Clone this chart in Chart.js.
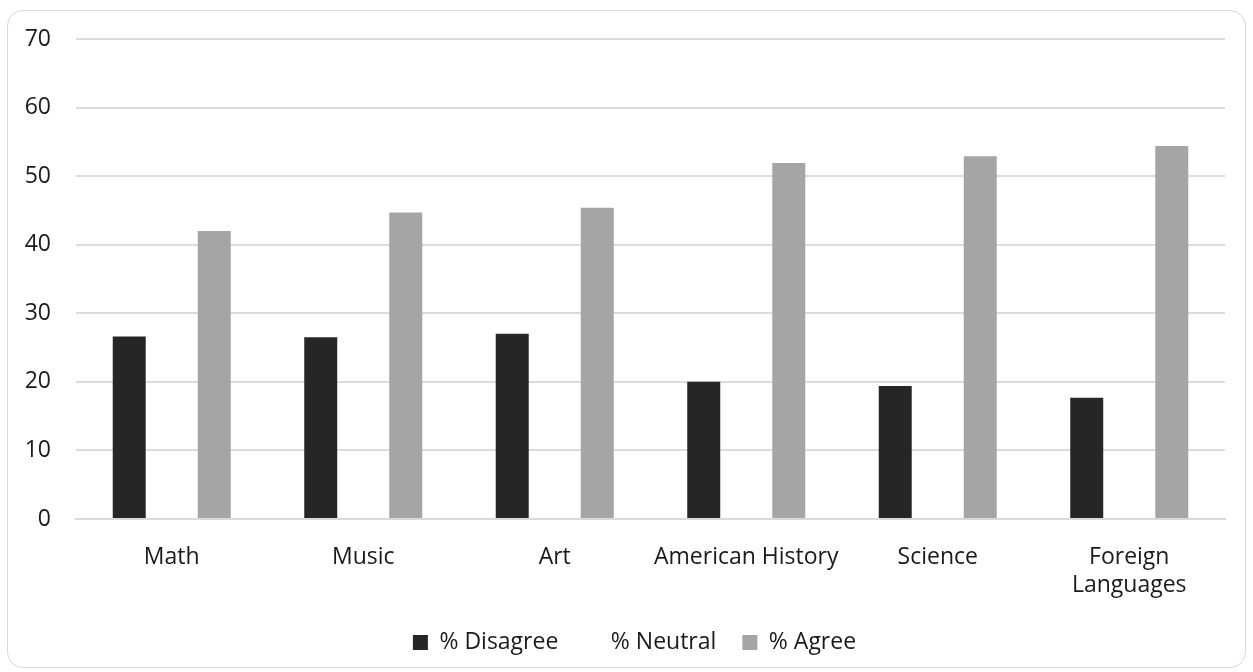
<!DOCTYPE html>
<html>
<head>
<meta charset="utf-8">
<script src="https://cdn.jsdelivr.net/npm/chart.js@4/dist/chart.umd.min.js"></script>
<style>
  html, body { margin: 0; padding: 0; background: #fff; }
  #frame {
    position: absolute; left: 7px; top: 10px;
    width: 1237px; height: 656px;
    border: 1px solid #d9d9d9; border-radius: 16px;
    background: #fff;
  }
  #frame canvas { display: block; }
</style>
</head>
<body>
<div id="frame"><canvas id="chart" width="1237" height="656"></canvas></div>
<script>
const subjects = ['Math', 'Music', 'Art', 'American History', 'Science', ['Foreign', 'Languages']];
const disagree = [26.6, 26.5, 27.0, 20.0, 19.4, 17.7];
const neutral = [31.4, 28.8, 27.6, 28.1, 27.7, 27.9];
const agree = [42.0, 44.7, 45.4, 51.9, 52.9, 54.4];
const yTicks = [0, 10, 20, 30, 40, 50, 60, 70];

const fontFamily = '"Open Sans", "Noto Sans", sans-serif';
const textColor = '#1a1a1a';

// the legend sits a bit right of the plot centre in the original
const legendShift = {
    id: 'legendShift',
    afterLayout(chart) {
        chart.legend.left += 36;
    }
};

new Chart(document.getElementById('chart'), {
    type: 'bar',
    data: {
        labels: subjects,
        datasets: [
            { label: '% Disagree', data: disagree, backgroundColor: '#262626' },
            // neutral bars have no fill in the original, only the legend text shows
            { label: '% Neutral', data: neutral, backgroundColor: 'rgba(0,0,0,0)', borderWidth: 0 },
            { label: '% Agree', data: agree, backgroundColor: '#a5a5a5' }
        ]
    },
    options: {
        responsive: false,
        animation: false,
        events: [],
        categoryPercentage: 0.666,
        barPercentage: 0.776,
        layout: { padding: { left: 0, right: 20, top: 28, bottom: 3 } },
        plugins: {
            legend: {
                position: 'bottom',
                labels: {
                    boxWidth: 15,
                    boxHeight: 15,
                    padding: 26,
                    color: textColor,
                    font: { family: fontFamily, size: 23 }
                }
            },
            tooltip: { enabled: false }
        },
        scales: {
            x: {
                grid: { display: false, drawTicks: false },
                border: { color: '#d9d9d9', width: 2 },
                ticks: {
                    color: textColor,
                    padding: 25,
                    maxRotation: 0,
                    autoSkip: false,
                    font: { family: fontFamily, size: 23 }
                },
                afterFit: s => {
                    s.height = 86;
                    s.paddingLeft = 0;
                    s.paddingRight = 0;
                }
            },
            y: {
                min: 0,
                max: 70,
                afterBuildTicks: s => { s.ticks = yTicks.map(v => ({ value: v })); },
                grid: { color: '#dcdcdc', lineWidth: 2, drawTicks: false },
                border: { display: false },
                ticks: {
                    color: textColor,
                    padding: 25,
                    font: { family: fontFamily, size: 23 }
                },
                afterFit: s => {
                    s.width = 68;
                    s.paddingTop = 0;
                    s.paddingBottom = 0;
                }
            }
        }
    },
    plugins: [legendShift]
});
</script>
</body>
</html>
